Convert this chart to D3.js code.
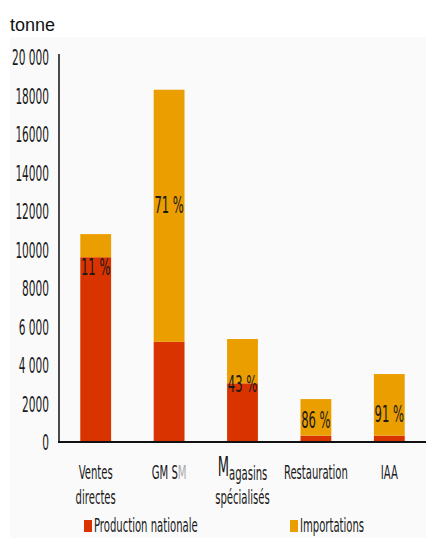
<!DOCTYPE html>
<head>
  <meta charset="utf-8">
  <script src="https://d3js.org/d3.v7.min.js"></script>
  <style>
    body { margin:0; background:#fff; }
    .cond { font-family:"Liberation Sans Narrow","DejaVu Sans Condensed",sans-serif; fill:#1a1a1a; }
  </style>
</head>

<body>
  <script>
  // ---------- data ---------------
    var categories = ["Ventes directes", "GMSM", "Magasins spécialisés", "Restauration", "IAA"];
    var production = [9600, 5200, 3050, 330, 330];
    var importations = [1200, 13100, 2300, 1900, 3200];
    var pctLabels = ["11 %", "71 %", "43 %", "86 %", "91 %"];
    var pctAt = [9100, 12300, 3000, 1150, 1450];   // where the % label sits, in tonnes
    var tickValues = [0, 2000, 4000, 6000, 8000, 10000, 12000, 14000, 16000, 18000, 20000];
    var tickLabels = ["0", "2000", "4 000", "6 000", "8000", "10000", "12000", "14000", "16000", "18000", "20 000"];
    var seriesNames = ["Production nationale", "Importations"];
    var colors = ["#d93300", "#eb9e00"];

    var W = 426, H = 538, SX = 0.56;

    var svg = d3.select("body").append("svg")
      .attr("width", W)
      .attr("height", H);

    // panel background
    svg.append("rect")
      .attr("x", 10).attr("y", 37)
      .attr("width", W - 10).attr("height", H - 37)
      .attr("fill", "#fafafa");

    svg.append("text")
      .attr("x", 10).attr("y", 31)
      .attr("font-family", "Liberation Sans, Arial, sans-serif")
      .attr("font-size", 18)
      .attr("fill", "#111")
      .text("tonne");

    var x = d3.scaleBand()
      .domain(categories)
      .range([59, W])
      .paddingInner(0.58)
      .paddingOuter(0.29);

    var y = d3.scaleLinear()
      .domain([0, 20000])
      .range([442, 57]);

  // ---------- condensed text helper
    function condText(g, px, py, str, size, anchor) {
      return g.append("text")
        .attr("class", "cond")
        .attr("transform", "translate(" + px + "," + py + ") scale(" + SX + ",1)")
        .attr("font-size", size)
        .attr("text-anchor", anchor || "middle")
        .text(str);
    }

  // ---------- bars
    var stacks = categories.map(function(c, i) {
      return [
        {cat: c, y0: 0, y1: production[i], color: colors[0]},
        {cat: c, y0: production[i], y1: production[i] + importations[i], color: colors[1]}
      ];
    });

    svg.append("g").selectAll("rect")
      .data(stacks.flat())
      .join("rect")
      .attr("x", d => x(d.cat))
      .attr("width", x.bandwidth())
      .attr("y", d => y(d.y1))
      .attr("height", d => y(d.y0) - y(d.y1))
      .attr("fill", d => d.color);

  // ---------- axes
    var yAxis = svg.append("g")
      .attr("transform", "translate(59,0)")
      .call(d3.axisLeft(y).tickValues(tickValues).tickSize(0)
        .tickFormat((d, i) => tickLabels[i]));
    yAxis.select(".domain").attr("d", "M0,54V442").attr("stroke", "#111").attr("stroke-width", 1.5);
    yAxis.selectAll("text")
      .attr("class", "cond")
      .attr("font-size", 21)
      .attr("x", null)
      .attr("dy", "0.36em")
      .attr("transform", "translate(-10,0) scale(" + SX + ",1)");

    svg.append("line")
      .attr("x1", 58).attr("x2", W)
      .attr("y1", y(0)).attr("y2", y(0))
      .attr("stroke", "#111").attr("stroke-width", 2);

  // ---------- % labels
    var lab = svg.append("g");
    categories.forEach(function(c, i) {
      condText(lab, x(c) + x.bandwidth() / 2, y(pctAt[i]) + 8, pctLabels[i], 23);
    });

  // ---------- category labels
    var cx = svg.append("g");
    var cxp = c => x(c) + x.bandwidth() / 2;
    condText(cx, cxp("Ventes directes"), 479, "Ventes", 20);
    condText(cx, cxp("Ventes directes"), 504, "directes", 20);
    var gm = condText(cx, cxp("GMSM"), 479, "GM S", 20);
    gm.append("tspan").attr("fill", "#aaa").text("M");
    var mg = condText(cx, cxp("Magasins spécialisés"), 476, "M", 26);
    mg.append("tspan").attr("font-size", 20).attr("dy", 4).text("agasins");
    condText(cx, cxp("Magasins spécialisés"), 504, "spécialisés", 20);
    condText(cx, cxp("Restauration"), 479, "Restauration", 20);
    condText(cx, cxp("IAA"), 479, "IAA", 20);

  // ---------- legend
    var leg = svg.append("g");
    var legX = [84, 290];
    seriesNames.forEach(function(s, i) {
      leg.append("rect")
        .attr("x", legX[i]).attr("y", 520)
        .attr("width", 8).attr("height", 12)
        .attr("fill", colors[i]);
      condText(leg, legX[i] + 10, 532, s, 20, "start");
    });
  </script>
</body>
